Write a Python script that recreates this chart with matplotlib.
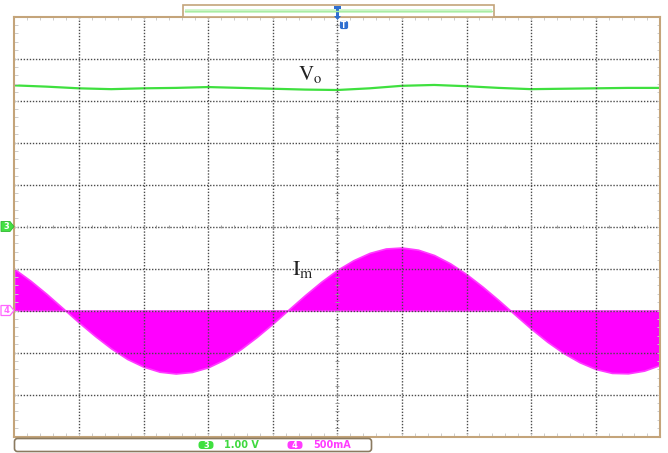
import numpy as np
import matplotlib.pyplot as plt
from matplotlib.patches import Rectangle, FancyBboxPatch, Polygon

plt.rcParams['mathtext.fontset'] = 'stix'

# horizontal position of the samples, in divisions (10 div across)
t_im = np.arange(0, 10.01, 0.25)
# inductor current envelope, A (ch4, 500 mA/div)
im_amp = [0.495, 0.355, 0.197, 0.028, -0.143, -0.304, -0.452, -0.578, -0.669,
          -0.729, -0.750, -0.732, -0.676, -0.584, -0.463, -0.317, -0.157,
          0.014, 0.183, 0.342, 0.484, 0.599, 0.686, 0.738, 0.750, 0.724,
          0.660, 0.560, 0.432, 0.283, 0.121, -0.049, -0.217, -0.372, -0.506,
          -0.616, -0.697, -0.743, -0.748, -0.716, -0.647]

t_vo = np.arange(0, 10.01, 0.5)
# output voltage, V (ch3, 1 V/div)
vo_volt = [3.36, 3.33, 3.29, 3.27, 3.29, 3.30, 3.32, 3.30, 3.28, 3.26, 3.25,
           3.29, 3.35, 3.37, 3.34, 3.30, 3.27, 3.28, 3.29, 3.30, 3.30]

ch3_scale, ch3_ref = 1.0, 5.0   # V/div, ground level in div
ch4_scale, ch4_ref = 0.5, 3.0   # A/div, ground level in div

W, H = 668, 453
fig = plt.figure(figsize=(W / 100, H / 100), dpi=100)
fig.patch.set_facecolor('white')

L, R, T, B = 14.3, 660.3, 16.5, 436.5
ax = fig.add_axes([L / W, (H - B) / H, (R - L) / W, (B - T) / H])
ax.set_xlim(0, 10)
ax.set_ylim(0, 10)
ax.set_xticks([])
ax.set_yticks([])
for s in ax.spines.values():
    s.set_color('#c4a47a')
    s.set_linewidth(1.5)
    s.set_zorder(6)

# traces
im = np.array(im_amp)
ax.fill_between(t_im, ch4_ref + im / ch4_scale, ch4_ref, color='#ff00ff',
                edgecolor='#ff3cff', linewidth=1.2, zorder=2)
ax.plot(t_vo, ch3_ref + np.array(vo_volt) / ch3_scale, color='#3fe03f',
        lw=1.6, zorder=2)

# graticule
gkw = dict(color='#4a4a4a', lw=1.0, linestyle=(0, (1, 1.2)), zorder=4)
for k in range(1, 10):
    ax.axvline(k, **gkw)
    ax.axhline(k, **gkw)
minor = np.arange(0, 10.01, 0.2)
tkw = dict(color='#999999', lw=0.7, zorder=4)
ax.vlines(minor, 5 - 0.04, 5 + 0.04, **tkw)
ax.hlines(minor, 5 - 0.03, 5 + 0.03, **tkw)
ekw = dict(color='#cccccc', lw=0.7, zorder=5)
ax.vlines(minor, 10 - 0.08, 10, **ekw)
ax.vlines(minor, 0, 0.08, **ekw)
ax.hlines(minor, 0, 0.05, **ekw)
ax.hlines(minor, 10 - 0.05, 10, **ekw)

ax.text(4.39, 8.49, r'$\mathrm{V_o}$', fontsize=15, color='#222222', zorder=7)
ax.text(4.30, 3.85, r'$\mathrm{I_m}$', fontsize=16, color='#222222', zorder=7)

# screen decorations in pixel coordinates
deco = fig.add_axes([0, 0, 1, 1], zorder=10)
deco.set_xlim(0, W)
deco.set_ylim(H, 0)
deco.axis('off')
deco.patch.set_alpha(0)

# record bar on top
deco.add_patch(Rectangle((183, 5), 311, 11.5, facecolor='white',
                         edgecolor='#c4a47a', lw=1.2))
deco.add_patch(Rectangle((185, 9), 307, 4, facecolor='#d4f7cf',
                         edgecolor='none'))
deco.plot([185, 492], [11, 11], color='#a8eca4', lw=1.0)

# trigger position marker
deco.add_patch(Polygon([(334, 6), (341, 6), (341, 9), (339, 9), (339, 16),
                        (341, 16), (337.5, 20), (334, 16), (336, 16), (336, 9),
                        (334, 9)], closed=True, facecolor='#2f6fd0',
                       edgecolor='none'))
deco.add_patch(FancyBboxPatch((340.5, 21.5), 7, 7,
                              boxstyle='round,pad=0.6,rounding_size=2',
                              facecolor='#2f6fd0', edgecolor='none'))
deco.text(344, 25.3, 'T', fontsize=5.5, color='white', ha='center',
          va='center', fontweight='bold')

# channel ground markers
gnd3 = B - ch3_ref * (B - T) / 10
gnd4 = B - ch4_ref * (B - T) / 10
deco.add_patch(Polygon([(1, gnd3 - 5), (10, gnd3 - 5), (14, gnd3), (10, gnd3 + 5),
                        (1, gnd3 + 5)], closed=True, facecolor='#44e044',
                       edgecolor='#2fb82f', lw=0.6))
deco.text(6, gnd3 + 0.3, '3', fontsize=6, color='white', ha='center',
          va='center', fontweight='bold')
deco.add_patch(Polygon([(1, gnd4 - 5), (10, gnd4 - 5), (14, gnd4), (10, gnd4 + 5),
                        (1, gnd4 + 5)], closed=True, facecolor='white',
                       edgecolor='#ff66ff', lw=0.9))
deco.text(6, gnd4 + 0.3, '4', fontsize=6, color='#ff66ff', ha='center',
          va='center', fontweight='bold')

# channel scale readout
deco.add_patch(FancyBboxPatch((15, 439), 356, 12,
                              boxstyle='round,pad=0.5,rounding_size=3',
                              facecolor='white', edgecolor='#8a7a60', lw=1.2))
deco.add_patch(FancyBboxPatch((199, 441.5), 14, 7,
                              boxstyle='round,pad=0.5,rounding_size=3.5',
                              facecolor='#3fe03f', edgecolor='none'))
deco.text(206, 445.3, '3', fontsize=6, color='white', ha='center', va='center',
          fontweight='bold')
deco.text(224, 445.3, '1.00 V', fontsize=7, color='#3fd83f', va='center',
          fontweight='bold')
deco.add_patch(FancyBboxPatch((288, 441.5), 14, 7,
                              boxstyle='round,pad=0.5,rounding_size=3.5',
                              facecolor='#ff3cff', edgecolor='none'))
deco.text(295, 445.3, '4', fontsize=6, color='white', ha='center', va='center',
          fontweight='bold')
deco.text(313, 445.3, '500mA', fontsize=7, color='#ff3cff', va='center',
          fontweight='bold')

fig.savefig('out.png', dpi=100)
